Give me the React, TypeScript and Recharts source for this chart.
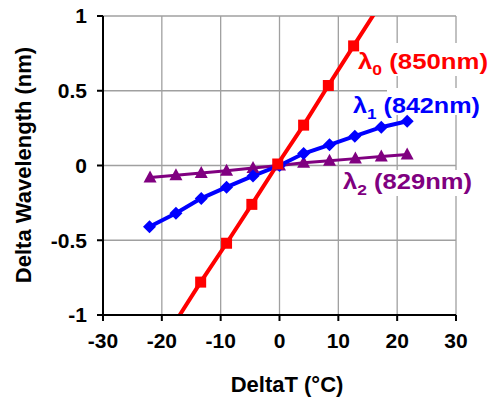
import { LineChart, Line, XAxis, YAxis, CartesianGrid, Customized } from 'recharts';

// temperature offsets (°C) and wavelength shifts (nm) per channel
const tempRed = [-22, -17.6, -13.4, -9, -4.7, -0.3, 4.1, 8.3, 12.6, 17, 21.5];
const shiftRed = [-1.3, -1.04, -0.78, -0.52, -0.26, 0.01, 0.27, 0.535, 0.8, 1.07, 1.34];

const tempBlue = [-22.1, -17.6, -13.3, -9, -4.5, 0, 4.1, 8.5, 12.8, 17.3, 21.7];
const shiftBlue = [-0.41, -0.32, -0.22, -0.145, -0.07, 0, 0.08, 0.138, 0.196, 0.256, 0.296];

const tempPurple = [-22, -17.6, -13.3, -9, -4.5, 0, 4.1, 8.5, 12.9, 17.3, 21.7];
const shiftPurple = [-0.08, -0.065, -0.05, -0.035, -0.017, 0, 0.018, 0.032, 0.046, 0.06, 0.074];

const xTicks = [-30, -20, -10, 0, 10, 20, 30];
const yTicks = [-1, -0.5, 0, 0.5, 1];

const toRows = (xs: number[], ys: number[]) => xs.map((x, i) => ({ x, y: ys[i] }));
const redData = toRows(tempRed, shiftRed);
const blueData = toRows(tempBlue, shiftBlue);
const purpleData = toRows(tempPurple, shiftPurple);

const FONT = '"Liberation Sans", Arial, sans-serif';
const RED = '#ff0000';
const BLUE = '#0000ff';
const PURPLE = '#800080';

const SquareDot = (props: any) => {
  const { cx, cy } = props;
  if (cx == null || cy == null) return null;
  return <rect x={cx - 5.5} y={cy - 5.5} width={11} height={11} fill={RED} />;
};

const DiamondDot = (props: any) => {
  const { cx, cy } = props;
  if (cx == null || cy == null) return null;
  const r = 6.5;
  return <polygon points={`${cx},${cy - r} ${cx + r},${cy} ${cx},${cy + r} ${cx - r},${cy}`} fill={BLUE} />;
};

const TriangleDot = (props: any) => {
  const { cx, cy } = props;
  if (cx == null || cy == null) return null;
  return <polygon points={`${cx},${cy - 7} ${cx + 6.5},${cy + 5} ${cx - 6.5},${cy + 5}`} fill={PURPLE} />;
};

function SeriesLabel({ x, y, sub, text, color, len }: any) {
  return (
    <text x={x} y={y} fill={color} fontFamily={FONT} fontWeight="bold" fontSize={22}
      textLength={len} lengthAdjust="spacingAndGlyphs">
      λ<tspan fontSize={15} dy={6}>{sub}</tspan><tspan dy={-6}>{' ' + text}</tspan>
    </text>
  );
}

const Annotations = () => (
  <g>
    {/* white boxes behind the data labels */}
    <rect x={357} y={43} width={134} height={33} fill="#fff" />
    <rect x={387} y={88} width={104} height={8} fill="#fff" />
    <rect x={348} y={95} width={143} height={20} fill="#fff" />
    <rect x={340} y={170} width={151} height={26} fill="#fff" />
    <SeriesLabel x={358} y={69} sub="0" text="(850nm)" color={RED} len={130} />
    <SeriesLabel x={353} y={113} sub="1" text="(842nm)" color={BLUE} len={127} />
    <SeriesLabel x={343} y={189} sub="2" text="(829nm)" color={PURPLE} len={129} />
    <text x={23} y={165} transform="rotate(-90 23 165)" textAnchor="middle" dominantBaseline="central"
      fontFamily={FONT} fontWeight="bold" fontSize={22} fill="#000">
      Delta Wavelength (nm)
    </text>
    <text x={287} y={392} textAnchor="middle" fontFamily={FONT} fontWeight="bold" fontSize={22} fill="#000">
      DeltaT (°C)
    </text>
  </g>
);

const tickStyle = { fontSize: 21, fontWeight: 'bold', fill: '#000', fontFamily: FONT };

export default function App() {
  return (
    <div style={{ position: 'absolute', left: 0, top: 0, width: 491, height: 400, background: '#fff' }}>
      <LineChart width={491} height={400} margin={{ top: 16, right: 35, bottom: 0, left: 0 }}>
        <CartesianGrid stroke="#a0a0a0" strokeWidth={1.3} />
        <XAxis
          type="number"
          dataKey="x"
          domain={[-30, 30]}
          ticks={xTicks}
          allowDataOverflow
          height={85}
          stroke="#000"
          strokeWidth={2}
          tickSize={6}
          tickMargin={12}
          tick={tickStyle}
        />
        <YAxis
          type="number"
          dataKey="y"
          domain={[-1, 1]}
          ticks={yTicks}
          allowDataOverflow
          width={103}
          stroke="#000"
          strokeWidth={2}
          tickSize={6}
          tickMargin={10}
          tick={tickStyle}
        />
        <Customized component={Annotations} />
        <Line data={purpleData} dataKey="y" stroke={PURPLE} strokeWidth={3} dot={<TriangleDot />}
          isAnimationActive={false} />
        <Line data={blueData} dataKey="y" stroke={BLUE} strokeWidth={4} dot={<DiamondDot />}
          isAnimationActive={false} />
        <Line data={redData} dataKey="y" stroke={RED} strokeWidth={4} dot={<SquareDot />}
          isAnimationActive={false} />
      </LineChart>
    </div>
  );
}
